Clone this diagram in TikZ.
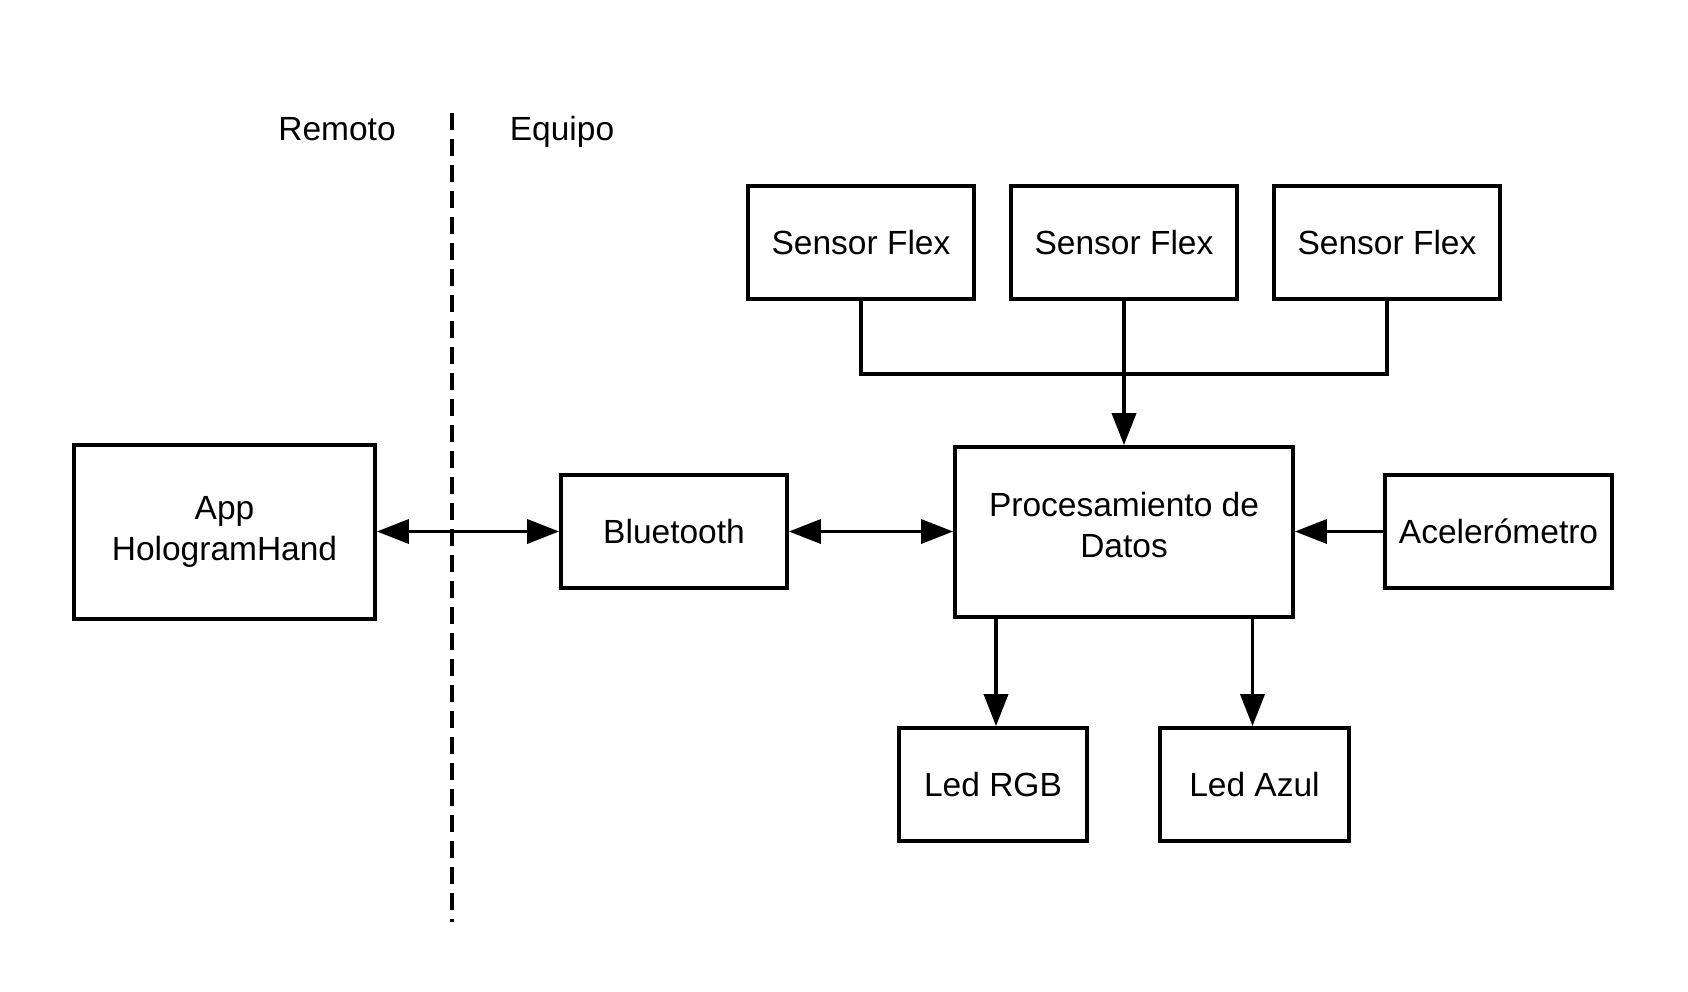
\documentclass[tikz,border=0pt]{standalone}
\usepackage{fontspec}
\setmainfont{Liberation Sans}
\usetikzlibrary{arrows.meta}

\tikzset{
  caja/.style={draw, line width=3.8pt, minimum width=226pt, minimum height=113pt,
    inner sep=0pt, align=center, font=\fontsize{33.5}{41}\selectfont},
  flecha/.style={line width=3.8pt, -{Triangle[length=32pt,width=24pt]}},
  dobleflecha/.style={line width=3.8pt,
    {Triangle[length=32pt,width=24pt]}-{Triangle[length=32pt,width=24pt]}},
  rotulo/.style={anchor=base, font=\fontsize{33.5}{41}\selectfont}
}

\begin{document}
\begin{tikzpicture}[x=1pt, y=-1pt]

    % Marco de la imagen
    \useasboundingbox (0,0) rectangle (1688,992);

    % Linea divisoria entre remoto y equipo
    \coordinate (lineaArriba) at (452,113);
    \coordinate (lineaAbajo) at (452,922);
    \draw[line width=3.5pt, dash pattern=on 17pt off 9pt] (lineaArriba) -- (lineaAbajo);
    \node[rotulo] (remoto) at (337,141) {Remoto};
    \node[rotulo] (equipo) at (562,141) {Equipo};

    % Sensores
    \node[caja] (flex1) at (861,242.5) {Sensor Flex};
    \node[caja] (flex2) at (1124,242.5) {Sensor Flex};
    \node[caja] (flex3) at (1387,242.5) {Sensor Flex};

    % Bloques principales
    \node[caja, minimum width=301pt, minimum height=174pt] (app) at (224.5,532) {App\\HologramHand};
    \node[caja] (bluetooth) at (674,531.5) {Bluetooth};
    \node[caja, minimum width=338pt, minimum height=170pt, text depth=14pt] (proc) at (1124,532) {Procesamiento de\\Datos};
    \node[caja, minimum width=227pt] (acel) at (1498.5,531.5) {Acelerómetro};

    % Salidas
    \node[caja, minimum width=188pt] (rgb) at (993,784.5) {Led RGB};
    \node[caja, minimum width=189pt] (azul) at (1254.5,784.5) {Led Azul};

    % Conexiones de los sensores
    \coordinate (bus) at (1124,374);
    \draw[line width=3.8pt] (flex1.south) |- (bus) -| (flex3.south);
    \draw[flecha] (flex2.south) -- (proc.north);

    % Comunicacion
    \draw[dobleflecha] (app.east |- bluetooth.west) -- (bluetooth.west);
    \draw[dobleflecha] (bluetooth.east) -- (proc.west |- bluetooth.east);
    \draw[flecha] (acel.west) -- (proc.east |- acel.west);

    % Leds
    \draw[flecha] ([xshift=3pt]rgb.north |- proc.south) -- ([xshift=3pt]rgb.north);
    \draw[flecha] ([xshift=-2pt]azul.north |- proc.south) -- ([xshift=-2pt]azul.north);

\end{tikzpicture}
\end{document}
